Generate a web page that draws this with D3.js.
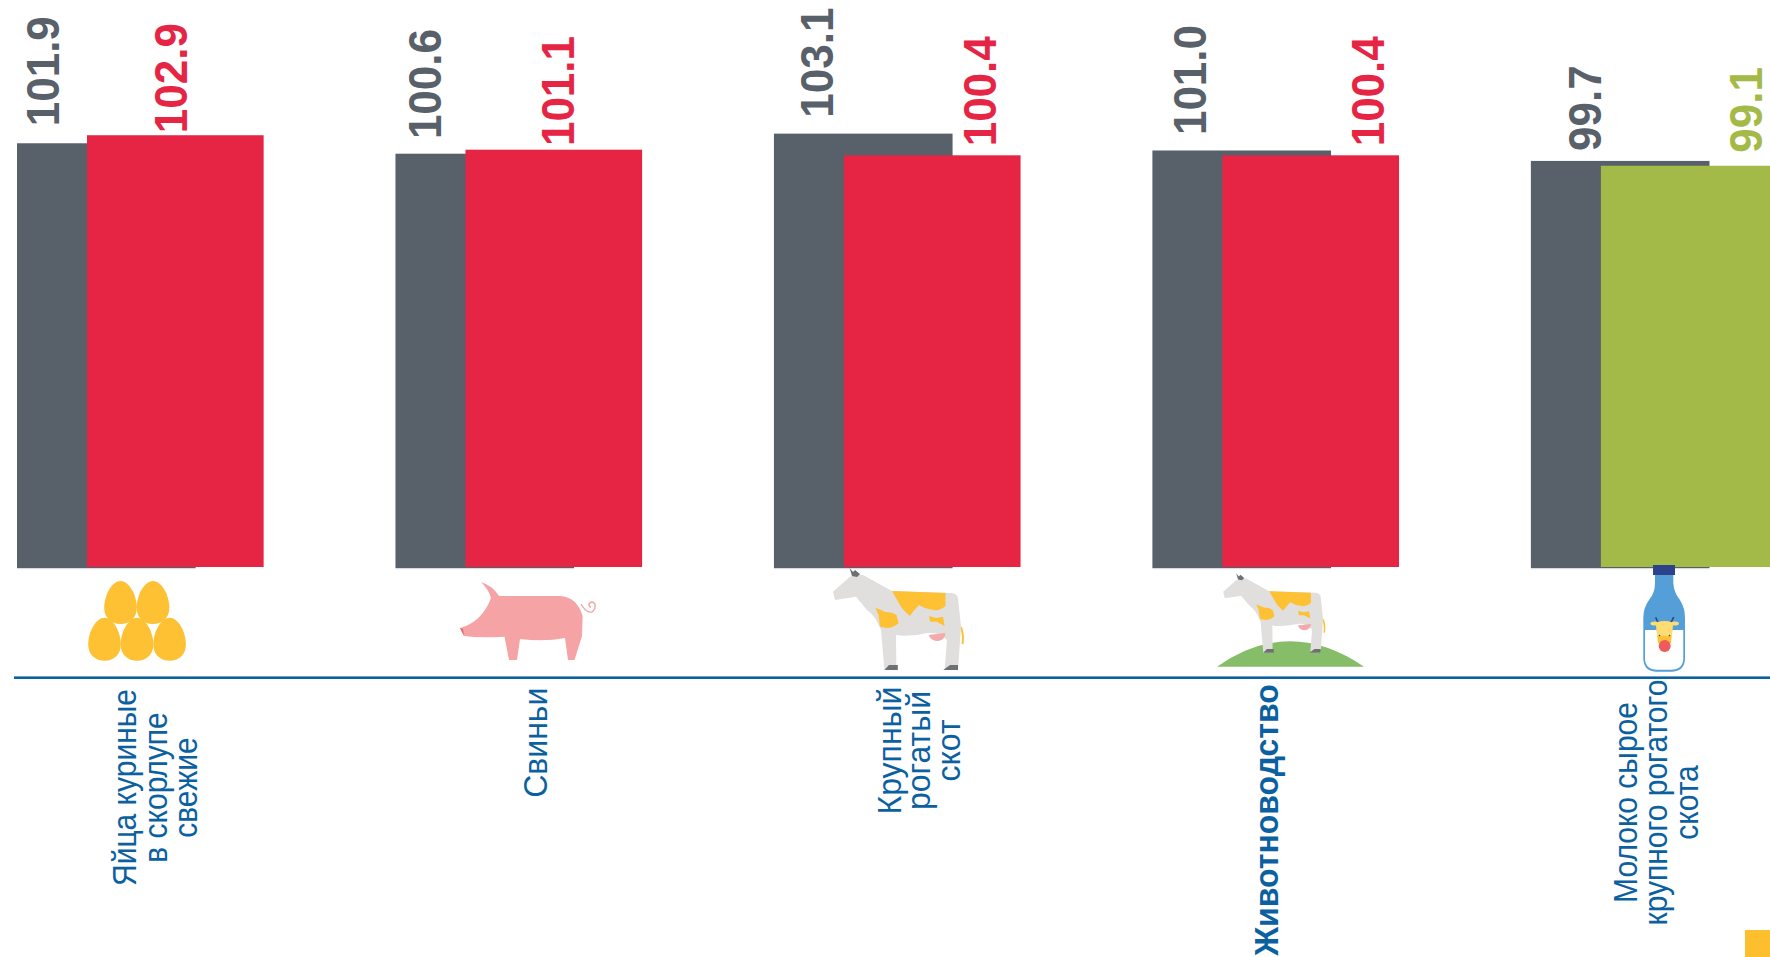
<!DOCTYPE html>
<html>
<head>
<meta charset="utf-8">
<script src="https://cdn.jsdelivr.net/npm/d3@7"></script>
<style>
  html, body { margin: 0; padding: 0; background: #fff; overflow: hidden; }
  text { font-family: "Liberation Sans", Arial, sans-serif; }
</style>
</head>
<body>
<div id="chart"></div>
<script>
// data
var categories = ["eggs", "pigs", "cattle", "livestock", "milk"];
var categoryLines = [
  ["Яйца куриные", "в скорлупе", "свежие"],
  ["Свиньи"],
  ["Крупный", "рогатый", "скот"],
  ["Животноводство"],
  ["Молоко сырое", "крупного рогатого", "скота"]
];
var previousValues = [101.9, 100.6, 103.1, 101.0, 99.7];
var currentValues = [102.9, 101.1, 100.4, 100.4, 99.1];

// layout (labels in the original are placed by hand, so they get their own offsets)
var width = 1770;
var height = 957;
var barBottom = 568;
var axisY = 677.7;
var grayLabelX = [42.4, 46, 59, 53.5, 69.8];
var grayLabelGap = [17, 14.6, 16, 15.4, 10];
var colorLabelX = [99.6, 108.6, 152, 162, 161];
var colorLabelGap = [2, 3.6, 9, 9, 13];
var catLabelX = [119, 152, 127, 126, 106];
var catLabelY = [787.5, 742.7, 750.5, 820, 802.5];
var catFontSize = [30, 32, 32, 32, 30];
var catLineStep = [30.5, 30.5, 29.5, 30.5, 30.5];

var grayColor = "#58606a";
var redColor = "#e62545";
var greenColor = "#a4ba48";
var blueColor = "#0b619f";
var yellowColor = "#fdc133";

function currentColor(i) { return i === 4 ? greenColor : redColor; }

var svg = d3.select("#chart")
  .append("svg")
  .attr("width", width)
  .attr("height", height)
  .style("display", "block");

var x = d3.scaleBand()
  .domain(categories)
  .range([17, 1709.5])
  .paddingInner(0.528)
  .paddingOuter(0);

var y = d3.scaleLinear()
  .domain([49, 104])
  .range([barBottom, 126.4]);

var barShift = 70;
var colorWidth = x.bandwidth() - 2;

// thin light edge under the gray bars
svg.selectAll(".edge")
  .data(categories)
  .enter().append("rect")
  .attr("class", "edge")
  .attr("x", function(d) { return x(d); })
  .attr("y", barBottom)
  .attr("width", x.bandwidth())
  .attr("height", 1.2)
  .attr("fill", "#d8dbe3");

svg.selectAll(".bar-prev")
  .data(previousValues)
  .enter().append("rect")
  .attr("class", "bar-prev")
  .attr("x", function(d, i) { return x(categories[i]); })
  .attr("y", function(d) { return y(d); })
  .attr("width", x.bandwidth())
  .attr("height", function(d) { return barBottom - y(d); })
  .attr("fill", grayColor);

svg.selectAll(".bar-cur")
  .data(currentValues)
  .enter().append("rect")
  .attr("class", "bar-cur")
  .attr("x", function(d, i) { return x(categories[i]) + barShift; })
  .attr("y", function(d) { return y(d); })
  .attr("width", colorWidth)
  .attr("height", function(d) { return barBottom - 1 - y(d); })
  .attr("fill", function(d, i) { return currentColor(i); });

// value labels, rotated
svg.selectAll(".val-prev")
  .data(previousValues)
  .enter().append("text")
  .attr("class", "val-prev")
  .attr("transform", function(d, i) {
    return "translate(" + (x(categories[i]) + grayLabelX[i]) + "," + (y(d) - grayLabelGap[i]) + ") rotate(-90) scale(1,1.06)";
  })
  .attr("font-size", 44)
  .attr("font-weight", "bold")
  .attr("fill", grayColor)
  .text(function(d) { return d.toFixed(1); });

svg.selectAll(".val-cur")
  .data(currentValues)
  .enter().append("text")
  .attr("class", "val-cur")
  .attr("transform", function(d, i) {
    return "translate(" + (x(categories[i]) + barShift + colorLabelX[i]) + "," + (y(d) - colorLabelGap[i]) + ") rotate(-90) scale(1,1.06)";
  })
  .attr("font-size", 44)
  .attr("font-weight", "bold")
  .attr("fill", function(d, i) { return currentColor(i); })
  .text(function(d) { return d.toFixed(1); });

// blue line under the icons
svg.append("rect")
  .attr("x", 14)
  .attr("y", axisY - 1.3)
  .attr("width", width - 14)
  .attr("height", 2.6)
  .attr("fill", blueColor);

// category labels
categoryLines.forEach(function(lines, i) {
  lines.forEach(function(line, k) {
    svg.append("text")
      .attr("transform", "translate(" + (x(categories[i]) + catLabelX[i] + k * catLineStep[i]) + "," + catLabelY[i] + ") rotate(-90) scale(1," + (33.5 / catFontSize[i]) + ")")
      .attr("text-anchor", "middle")
      .attr("font-size", catFontSize[i])
      .attr("font-weight", categories[i] === "livestock" ? "bold" : "normal")
      .attr("fill", blueColor)
      .text(line);
  });
});

// yellow corner square
svg.append("rect")
  .attr("x", 1745)
  .attr("y", 930)
  .attr("width", 25)
  .attr("height", 27)
  .attr("fill", "#fdbf2d");

// ---- icons ----
function poly(g, d, fill) {
  g.append("path").attr("d", d).attr("fill", fill);
}

function drawEggs() {
  var eggs = [[120.5, 581], [153, 581], [104.5, 617.7], [137, 617.7], [169.6, 617.7]];
  eggs.forEach(function(e) {
    svg.append("path")
      .attr("transform", "translate(" + e[0] + "," + e[1] + ")")
      .attr("d", "M0,0 C8,0 16.3,13 16.3,27 C16.3,37 9,43 0,43 C-9,43 -16.3,37 -16.3,27 C-16.3,13 -8,0 0,0 Z")
      .attr("fill", yellowColor);
  });
}

function drawPig() {
  var g = svg.append("g");
  poly(g, "M481,582 Q493,586 499,596 L560,596 Q577,597 582.6,616 L582,636 L574.5,660 L568,660 L565,638 Q545,642 520,639 L517,660 L509,660 L504.5,636.7 Q480,638 464,636 L460,628 Q482,622 491,598 Q489,590 481,582 Z", "#f5a3a5");
  poly(g, "M460,628 L463,629 L464,636 Z", "#e0686c");
  g.append("path")
    .attr("d", "M581,604 Q586,613 592,612 Q596,609 595,604 Q592,600 589,604 Q589,607 591,607")
    .attr("fill", "none")
    .attr("stroke", "#f5a3a5")
    .attr("stroke-width", 1.4);
}

function drawCow(g) {
  g.append("path")
    .attr("d", "M961,627 Q964,636 962.5,644")
    .attr("fill", "none")
    .attr("stroke", yellowColor)
    .attr("stroke-width", 2);
  poly(g, "M849.6,577 L856,574 L863,575 L892,591 L952,593 Q957,594 958,598 L961,627 L958,670 L944.6,670 L947,640 Q938,631 927.7,633 Q910,637 896,635 L896.4,670 L884.4,670 L881,630 Q875,615 867,610 L856,596.7 L835,600 L833,591.7 Z", "#e0dfdd");
  poly(g, "M892,591 L945.5,593 L945.5,606 Q940,611 934,610 Q925,609 919,605 Q914,610 909.8,616 Q903,610 901,606.7 Z", yellowColor);
  poly(g, "M875.4,608 Q880,609 885,612 Q893,612 896.4,615 L898.7,623 Q893,628 887.5,628 L880,626.7 L878.6,615 Z", yellowColor);
  poly(g, "M929,616 L936,618 L943,616.7 L944.6,626 L936.6,621.7 L930,621.7 Z", yellowColor);
  poly(g, "M928.6,635 L945.5,633 Q945,640 938,641 Q931,641 928.6,635 Z", "#f4a9ab");
  poly(g, "M884.4,670 L897.8,670 L897.8,665 L889,665 Z", "#6f7072");
  poly(g, "M943.3,670 L958,670 L958,665 L950,665 Z", "#6f7072");
  poly(g, "M849.6,568 L853,572 L855,570 L860,574 L857,577 L852,576 Z", "#6f7072");
}

function drawBigCow() {
  drawCow(svg.append("g"));
}

function drawSmallCow() {
  poly(svg, "M1217,666.7 Q1289,616 1364,666.7 Z", "#86bd68");
  drawCow(svg.append("g").attr("transform", "translate(1223.2,573.3) scale(0.78) translate(-833,-568)"));
}

function drawBottle() {
  var g = svg.append("g");
  poly(g, "M1655,575 L1673.3,575 L1673.3,583 Q1674,593 1680,600 Q1685,608 1685,618 L1685,658 Q1685,671.7 1671,671.7 L1657,671.7 Q1643.3,671.7 1643.3,658 L1643.3,618 Q1643.3,608 1649,600 Q1655,593 1655,583 Z", "#559fd8");
  poly(g, "M1645,630 L1683.3,630 L1683.3,658 Q1683.3,669.7 1671,669.7 L1657,669.7 Q1645,669.7 1645,658 Z", "#fff");
  poly(g, "M1653,565 L1675,565 L1675,575 L1653,575 Z", "#2c438c");
  g.append("path")
    .attr("d", "M1658,622.7 L1655.7,617.3 M1671,622.7 L1673.7,617")
    .attr("stroke", "#2c438c")
    .attr("stroke-width", 1.6);
  g.append("ellipse").attr("cx", 1655).attr("cy", 623.5).attr("rx", 4.5).attr("ry", 2).attr("fill", "#fddc73");
  g.append("ellipse").attr("cx", 1674.5).attr("cy", 623.5).attr("rx", 4.5).attr("ry", 2).attr("fill", "#fddc73");
  poly(g, "M1656,623 Q1664.5,619 1673,623 L1671,643 L1658,643 Z", "#fdc133");
  poly(g, "M1656,623 Q1664.5,619 1673,623 L1672,636 L1657,636 Z", "#fddc73");
  g.append("circle").attr("cx", 1664.7).attr("cy", 646).attr("r", 6).attr("fill", "#ef5b5b");
  g.append("circle").attr("cx", 1659.5).attr("cy", 635.5).attr("r", 0.8).attr("fill", "#444");
  g.append("circle").attr("cx", 1669.5).attr("cy", 635.5).attr("r", 0.8).attr("fill", "#444");
}

drawEggs();
drawPig();
drawBigCow();
drawSmallCow();
drawBottle();
</script>
</body>
</html>
